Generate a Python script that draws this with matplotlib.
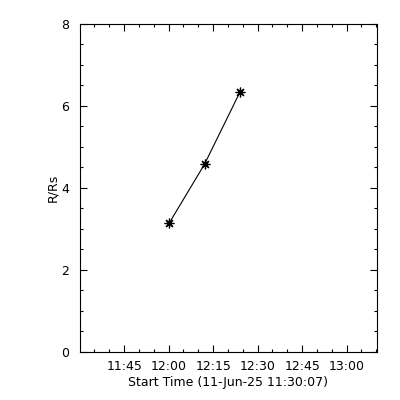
import matplotlib
matplotlib.use("Agg")
import matplotlib.pyplot as plt
import matplotlib.dates as mdates
import numpy as np
import datetime as dt

# Data
times = ["2025-06-11 12:00:07", "2025-06-11 12:12:07", "2025-06-11 12:24:07"]
heights = [3.13, 4.58, 6.35]
start_label = "Start Time (11-Jun-25 11:30:07)"
x_start = "2025-06-11 11:30:07"
x_end = "2025-06-11 13:10:07"
y_label = "R/Rs"

t = [dt.datetime.strptime(s, "%Y-%m-%d %H:%M:%S") for s in times]
x0 = dt.datetime.strptime(x_start, "%Y-%m-%d %H:%M:%S")
x1 = dt.datetime.strptime(x_end, "%Y-%m-%d %H:%M:%S")

fig = plt.figure(figsize=(4, 4), dpi=100)
ax = fig.add_axes([0.2, 0.121, 0.7417, 0.819])

ax.plot(t, heights, color="black", lw=0.8)
ax.plot(t, heights, linestyle="none", marker=(8, 2, 0), markersize=7,
        markeredgewidth=0.9, color="black")

ax.set_xlim(x0, x1)
ax.set_ylim(0, 8)

ax.xaxis.set_major_locator(mdates.MinuteLocator(byminute=[0, 15, 30, 45]))
ax.xaxis.set_minor_locator(mdates.MinuteLocator(byminute=range(0, 60, 5)))
ax.xaxis.set_major_formatter(mdates.DateFormatter("%H:%M"))
ax.set_yticks([0, 2, 4, 6, 8])
ax.set_yticks(np.arange(0, 8.01, 0.5), minor=True)

ax.tick_params(which="both", direction="in", top=True, right=True,
               labelsize=9, width=0.8)
ax.tick_params(which="major", length=5)
ax.tick_params(which="minor", length=2.5)
ax.tick_params(axis="y", pad=8)
ax.tick_params(axis="x", pad=6)

for s in ax.spines.values():
    s.set_linewidth(0.8)

ax.set_xlabel(start_label, fontsize=9, labelpad=2)
ax.set_ylabel(y_label, fontsize=9, labelpad=1)

fig.savefig("out.png", dpi=100)
